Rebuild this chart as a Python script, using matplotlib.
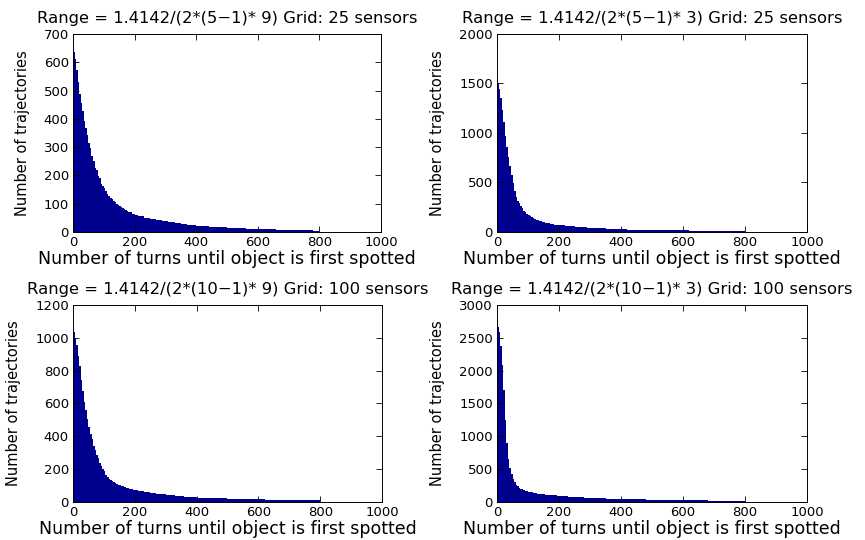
import numpy as np
import matplotlib
matplotlib.use("Agg")
import matplotlib.pyplot as plt

plt.rcParams['font.family'] = ['DejaVu Sans']

# Bin edges (turns): width 5 up to 200, width 10 up to 400, width 20 up to 800
bin_edges = ([0, 5, 10, 15, 20, 25, 30, 35, 40, 45, 50, 55, 60, 65, 70, 75, 80, 85, 90, 95,
              100, 105, 110, 115, 120, 125, 130, 135, 140, 145, 150, 155, 160, 165, 170, 175,
              180, 185, 190, 195, 200, 210, 220, 230, 240, 250, 260, 270, 280, 290, 300, 310,
              320, 330, 340, 350, 360, 370, 380, 390, 400, 420, 440, 460, 480, 500, 520, 540,
              560, 580, 600, 620, 640, 660, 680, 700, 720, 740, 760, 780, 800])

titles = [
    "Range = 1.4142/(2*(5\u22121)* 9) Grid: 25 sensors",
    "Range = 1.4142/(2*(5\u22121)* 3) Grid: 25 sensors",
    "Range = 1.4142/(2*(10\u22121)* 9) Grid: 100 sensors",
    "Range = 1.4142/(2*(10\u22121)* 3) Grid: 100 sensors",
]

counts_5x5_r9 = [635, 612, 572, 530, 488, 457, 426, 394, 366, 342, 316, 298, 270, 252, 226, 218,
                 198, 192, 171, 164, 154, 145, 136, 128, 119, 115, 108, 105, 99, 97, 92, 89, 84,
                 81, 77, 75, 70, 69, 65, 62,
                 60, 57, 55, 51, 50, 46, 45, 43, 41, 39, 38, 35, 35, 32, 31, 29, 28, 26, 25, 24,
                 22, 20, 19, 17, 16, 15, 14, 13, 12, 11, 10, 10, 9, 8, 8, 7, 7, 6, 6, 5]

counts_5x5_r3 = [1505, 1440, 1352, 1228, 1112, 972, 862, 758, 662, 572, 492, 418, 352, 314, 292,
                 260, 240, 214, 199, 182, 171, 157, 149, 138, 132, 123, 119, 111, 108, 101, 99,
                 93, 91, 86, 85, 80, 79, 75, 75, 71,
                 69, 66, 63, 60, 57, 54, 52, 49, 47, 45, 43, 41, 39, 37, 36, 34, 33, 31, 30, 29,
                 27, 25, 24, 22, 21, 20, 19, 18, 17, 16, 15, 14, 13, 12, 12, 11, 10, 10, 9, 8]

counts_10x10_r9 = [1038, 998, 958, 888, 828, 742, 678, 608, 562, 503, 458, 412, 382, 343, 314,
                   288, 270, 240, 220, 198, 186, 163, 151, 139, 134, 125, 121, 113, 111, 104,
                   102, 96, 95, 89, 88, 83, 82, 78, 77, 73,
                   71, 68, 64, 61, 58, 55, 52, 50, 48, 46, 44, 42, 40, 38, 36, 35, 33, 32, 30, 29,
                   27, 26, 24, 23, 22, 21, 20, 19, 18, 17, 16, 15, 14, 13, 13, 12, 11, 11, 10, 10]

counts_10x10_r3 = [2670, 2585, 2378, 2082, 1702, 1248, 902, 658, 512, 424, 356, 303, 266, 237,
                   219, 201, 191, 179, 172, 162, 157, 149, 146, 139, 137, 131, 129, 123, 122, 117,
                   116, 111, 111, 107, 107, 103, 103, 99, 99, 95,
                   93, 90, 86, 83, 80, 77, 74, 71, 68, 66, 63, 61, 59, 57, 55, 53, 51, 49, 48, 46,
                   44, 42, 40, 38, 36, 34, 33, 31, 30, 28, 27, 26, 24, 23, 22, 21, 20, 19, 18, 17]

all_counts = [counts_5x5_r9, counts_5x5_r3, counts_10x10_r9, counts_10x10_r3]
y_max = [700, 2000, 1200, 3000]
y_step = [100, 500, 200, 500]
x_ticks = [0, 200, 400, 600, 800, 1000]

bar_color = "#00008F"

fig = plt.figure(figsize=(8.65, 5.4), dpi=100)
positions = [
    [0.0844, 0.5704, 0.3561, 0.3667],
    [0.5746, 0.5704, 0.3584, 0.3667],
    [0.0844, 0.0704, 0.3572, 0.3648],
    [0.5746, 0.0704, 0.3584, 0.3648],
]

for i in range(4):
    ax = fig.add_axes(positions[i])
    ax.stairs(all_counts[i], bin_edges, fill=True, color=bar_color, linewidth=0)
    ax.set_xlim(0, 1000)
    ax.set_ylim(0, y_max[i])
    ax.set_xticks(x_ticks)
    ax.set_yticks(np.arange(0, y_max[i] + 1, y_step[i]))
    ax.tick_params(direction='in', top=True, right=True, length=4, width=0.6,
                   labelsize=9.5, pad=3)
    for s in ax.spines.values():
        s.set_linewidth(0.7)
    ax.set_title(titles[i], fontsize=11.8, pad=8)
    ax.set_xlabel("Number of turns until object is first spotted", fontsize=12.5, labelpad=0.5)
    ax.set_ylabel("Number of trajectories", fontsize=10.5, labelpad=10)

fig.savefig("out.png", dpi=100)
